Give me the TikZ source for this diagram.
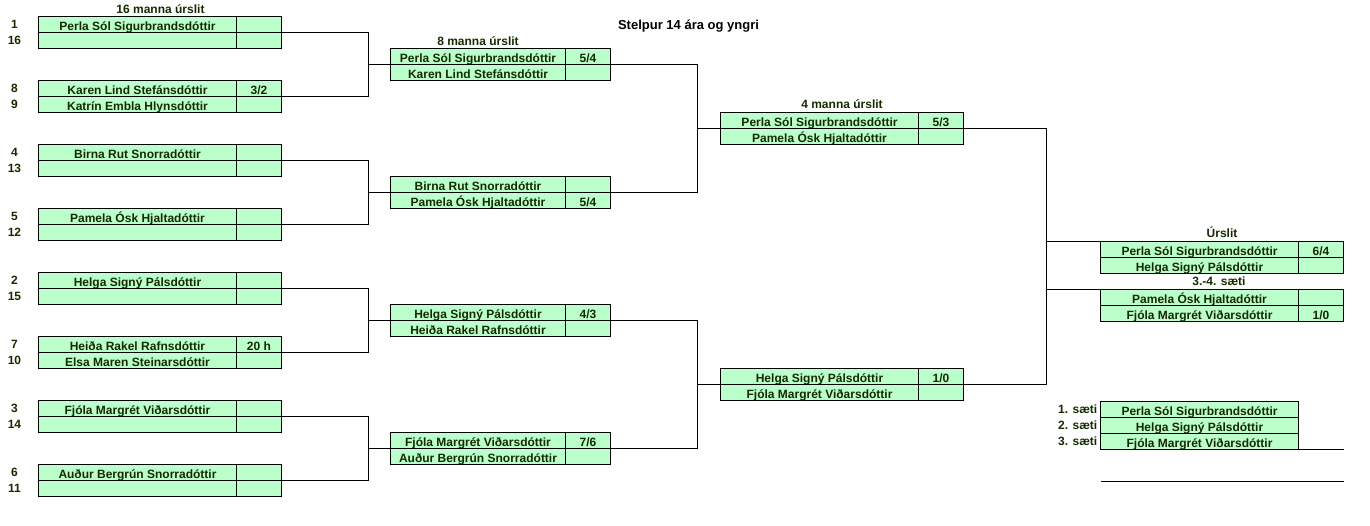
\documentclass[tikz,border=0pt]{standalone}
\usepackage{fontspec}
\setmainfont{Liberation Sans}
\usepackage{xcolor}
\usetikzlibrary{positioning}
\definecolor{cellgreen}{RGB}{187,255,204}
\definecolor{inkgreen}{RGB}{20,42,0}

\tikzset{
  cell/.style={draw,fill=cellgreen,line width=0.9pt,minimum height=16pt,inner sep=0pt,outer sep=0pt,
    text height=11.5pt,text depth=0pt,text=inkgreen,font=\bfseries\fontsize{12}{12}\selectfont},
  namecell/.style={cell,anchor=north west,minimum width=198pt},
  shortcell/.style={cell,anchor=north west,minimum width=175pt},
  scorecell/.style={cell,minimum width=45pt},
  seed/.style={text=inkgreen,inner sep=0pt,font=\bfseries\fontsize{12}{12}\selectfont},
  roundlabel/.style={anchor=base,text=inkgreen,inner sep=0pt,font=\bfseries\fontsize{12}{12}\selectfont},
  bracket/.style={line width=0.9pt}
}

\begin{document}
\begin{tikzpicture}[x=1pt,y=-1pt]
        \useasboundingbox (0,0) rectangle (1370,525);
        \node[anchor=base,inner sep=0pt,font=\bfseries\fontsize{13}{13}\selectfont] (title) at (688.5,29.5) {Stelpur 14 ára og yngri};
        % 16 manna
        \node[roundlabel] (lab16) at (160.5,13) {16 manna úrslit};
        \node[namecell] (p1) at (38.5,16.5) {Perla Sól Sigurbrandsdóttir};
        \node[scorecell,right=0pt of p1] (p1s) {};
        \node[namecell,below=0pt of p1] (p2) {};
        \node[scorecell,right=0pt of p2] (p2s) {};
        \node[namecell] (p3) at (38.5,80.5) {Karen Lind Stefánsdóttir};
        \node[scorecell,right=0pt of p3] (p3s) {3/2};
        \node[namecell,below=0pt of p3] (p4) {Katrín Embla Hlynsdóttir};
        \node[scorecell,right=0pt of p4] (p4s) {};
        \node[namecell] (p5) at (38.5,144.5) {Birna Rut Snorradóttir};
        \node[scorecell,right=0pt of p5] (p5s) {};
        \node[namecell,below=0pt of p5] (p6) {};
        \node[scorecell,right=0pt of p6] (p6s) {};
        \node[namecell] (p7) at (38.5,208.5) {Pamela Ósk Hjaltadóttir};
        \node[scorecell,right=0pt of p7] (p7s) {};
        \node[namecell,below=0pt of p7] (p8) {};
        \node[scorecell,right=0pt of p8] (p8s) {};
        \node[namecell] (p9) at (38.5,272.5) {Helga Signý Pálsdóttir};
        \node[scorecell,right=0pt of p9] (p9s) {};
        \node[namecell,below=0pt of p9] (p10) {};
        \node[scorecell,right=0pt of p10] (p10s) {};
        \node[namecell] (p11) at (38.5,336.5) {Heiða Rakel Rafnsdóttir};
        \node[scorecell,right=0pt of p11] (p11s) {20 h};
        \node[namecell,below=0pt of p11] (p12) {Elsa Maren Steinarsdóttir};
        \node[scorecell,right=0pt of p12] (p12s) {};
        \node[namecell] (p13) at (38.5,400.5) {Fjóla Margrét Viðarsdóttir};
        \node[scorecell,right=0pt of p13] (p13s) {};
        \node[namecell,below=0pt of p13] (p14) {};
        \node[scorecell,right=0pt of p14] (p14s) {};
        \node[namecell] (p15) at (38.5,464.5) {Auður Bergrún Snorradóttir};
        \node[scorecell,right=0pt of p15] (p15s) {};
        \node[namecell,below=0pt of p15] (p16) {};
        \node[scorecell,right=0pt of p16] (p16s) {};
        % Seeds
        \node[seed] (n1) at (14.5,24.5) {1};
        \node[seed] (n16) at (14.5,40.5) {16};
        \node[seed] (n8) at (14.5,88.5) {8};
        \node[seed] (n9) at (14.5,104.5) {9};
        \node[seed] (n4) at (14.5,152.5) {4};
        \node[seed] (n13) at (14.5,168.5) {13};
        \node[seed] (n5) at (14.5,216.5) {5};
        \node[seed] (n12) at (14.5,232.5) {12};
        \node[seed] (n2) at (14.5,280.5) {2};
        \node[seed] (n15) at (14.5,296.5) {15};
        \node[seed] (n7) at (14.5,344.5) {7};
        \node[seed] (n10) at (14.5,360.5) {10};
        \node[seed] (n3) at (14.5,408.5) {3};
        \node[seed] (n14) at (14.5,424.5) {14};
        \node[seed] (n6) at (14.5,472.5) {6};
        \node[seed] (n11) at (14.5,488.5) {11};
        % 8 manna
        \node[roundlabel] (lab8) at (478,45) {8 manna úrslit};
        \node[shortcell] (q1) at (390.5,48.5) {Perla Sól Sigurbrandsdóttir};
        \node[scorecell,right=0pt of q1] (q1s) {5/4};
        \node[shortcell,below=0pt of q1] (q2) {Karen Lind Stefánsdóttir};
        \node[scorecell,right=0pt of q2] (q2s) {};
        \node[shortcell] (q3) at (390.5,176.5) {Birna Rut Snorradóttir};
        \node[scorecell,right=0pt of q3] (q3s) {};
        \node[shortcell,below=0pt of q3] (q4) {Pamela Ósk Hjaltadóttir};
        \node[scorecell,right=0pt of q4] (q4s) {5/4};
        \node[shortcell] (q5) at (390.5,304.5) {Helga Signý Pálsdóttir};
        \node[scorecell,right=0pt of q5] (q5s) {4/3};
        \node[shortcell,below=0pt of q5] (q6) {Heiða Rakel Rafnsdóttir};
        \node[scorecell,right=0pt of q6] (q6s) {};
        \node[shortcell] (q7) at (390.5,432.5) {Fjóla Margrét Viðarsdóttir};
        \node[scorecell,right=0pt of q7] (q7s) {7/6};
        \node[shortcell,below=0pt of q7] (q8) {Auður Bergrún Snorradóttir};
        \node[scorecell,right=0pt of q8] (q8s) {};
        % 4 manna
        \node[roundlabel] (lab4) at (842,108.5) {4 manna úrslit};
        \node[namecell] (s1) at (720.5,112.5) {Perla Sól Sigurbrandsdóttir};
        \node[scorecell,right=0pt of s1] (s1s) {5/3};
        \node[namecell,below=0pt of s1] (s2) {Pamela Ósk Hjaltadóttir};
        \node[scorecell,right=0pt of s2] (s2s) {};
        \node[namecell] (s3) at (720.5,368.5) {Helga Signý Pálsdóttir};
        \node[scorecell,right=0pt of s3] (s3s) {1/0};
        \node[namecell,below=0pt of s3] (s4) {Fjóla Margrét Viðarsdóttir};
        \node[scorecell,right=0pt of s4] (s4s) {};
        % Urslit
        \node[roundlabel] (labf) at (1222,237.5) {Úrslit};
        \node[namecell] (f1) at (1100.5,241.5) {Perla Sól Sigurbrandsdóttir};
        \node[scorecell,right=0pt of f1] (f1s) {6/4};
        \node[namecell,below=0pt of f1] (f2) {Helga Signý Pálsdóttir};
        \node[scorecell,right=0pt of f2] (f2s) {};
        \node[roundlabel] (labt) at (1219,285.5) {3.-4. sæti};
        \node[namecell] (t1) at (1100.5,289.5) {Pamela Ósk Hjaltadóttir};
        \node[scorecell,right=0pt of t1] (t1s) {};
        \node[namecell,below=0pt of t1] (t2) {Fjóla Margrét Viðarsdóttir};
        \node[scorecell,right=0pt of t2] (t2s) {1/0};
        % Saeti
        \node[namecell] (w1) at (1100.5,401.5) {Perla Sól Sigurbrandsdóttir};
        \node[namecell,below=0pt of w1] (w2) {Helga Signý Pálsdóttir};
        \node[namecell,below=0pt of w2] (w3) {Fjóla Margrét Viðarsdóttir};
        \node[seed,anchor=east] (w1lab) at (1097.5,409.5) {1. sæti};
        \node[seed,anchor=east] (w2lab) at (1097.5,425.5) {2. sæti};
        \node[seed,anchor=east] (w3lab) at (1097.5,441.5) {3. sæti};
        \coordinate (e1) at (1343.5,449.5);
        \coordinate (e2) at (1100.5,481.5);
        \coordinate (e3) at (1343.5,481.5);
        \draw[bracket] (w3.south west) -- (e1);
        \draw[bracket] (e2) -- (e3);
        % Brackets
        \coordinate (a1) at (368.5,64.5);
        \coordinate (a2) at (368.5,192.5);
        \coordinate (a3) at (368.5,320.5);
        \coordinate (a4) at (368.5,448.5);
        \draw[bracket] (p1s.south east) -| (a1) |- (p3s.south east);
        \draw[bracket] (p5s.south east) -| (a2) |- (p7s.south east);
        \draw[bracket] (p9s.south east) -| (a3) |- (p11s.south east);
        \draw[bracket] (p13s.south east) -| (a4) |- (p15s.south east);
        \draw[bracket] (a1) -- (q1.south west);
        \draw[bracket] (a2) -- (q3.south west);
        \draw[bracket] (a3) -- (q5.south west);
        \draw[bracket] (a4) -- (q7.south west);
        \coordinate (b1) at (697.5,128.5);
        \coordinate (b2) at (697.5,384.5);
        \draw[bracket] (q1s.south east) -| (b1) |- (q3s.south east);
        \draw[bracket] (q5s.south east) -| (b2) |- (q7s.south east);
        \draw[bracket] (b1) -- (s1.south west);
        \draw[bracket] (b2) -- (s3.south west);
        \coordinate (c1) at (1046.5,241.5);
        \coordinate (c2) at (1046.5,289.5);
        \draw[bracket] (s1s.south east) -| (c1) -- (c2) |- (s3s.south east);
        \draw[bracket] (c1) -- (f1.north west);
        \draw[bracket] (c2) -- (t1.north west);
\end{tikzpicture}
\end{document}
